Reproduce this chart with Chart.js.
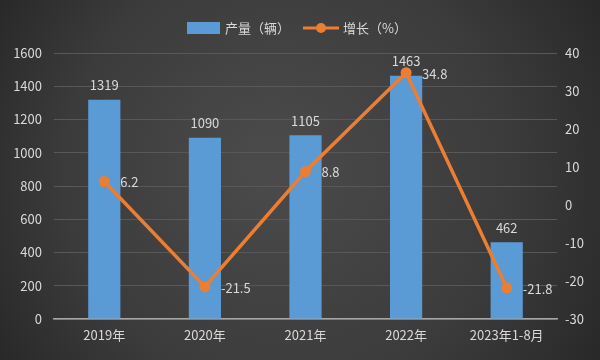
<!DOCTYPE html>
<html><head><meta charset="utf-8">
<script src="https://cdn.jsdelivr.net/npm/chart.js@4/dist/chart.umd.min.js"></script>
<style>html,body{margin:0;padding:0;background:#333;}#wrap{width:600px;height:360px;}</style>
</head><body><div id="wrap"><canvas id="c" width="600" height="360"></canvas></div>
<script>
const categories = ['2019年', '2020年', '2021年', '2022年', '2023年1-8月'];
const production = [1319, 1090, 1105, 1463, 462];
const growth = [6.2, -21.5, 8.8, 34.8, -21.8];
const leftTicks = [0, 200, 400, 600, 800, 1000, 1200, 1400, 1600];
const rightTicks = [-30, -20, -10, 0, 10, 20, 30, 40];
const seriesNames = ['产量（辆）', '增长（%）'];

const FONT = '"Noto Sans CJK SC", "Noto Sans", sans-serif';
const TXT = '#d9d9d9';
const BLUE = '#5b9bd5';
const ORANGE = '#ed7d31';

const bgPlugin = {
  id: 'bg',
  beforeDraw(chart) {
    const ctx = chart.ctx, w = chart.width, h = chart.height;
    ctx.save();
    const g = ctx.createRadialGradient(w*0.45, h*0.45, 20, w*0.5, h*0.5, 360);
    g.addColorStop(0, '#4a4a4a');
    g.addColorStop(0.6, '#3b3b3b');
    g.addColorStop(1, '#272727');
    ctx.fillStyle = g;
    ctx.fillRect(0, 0, w, h);
    ctx.restore();
  }
};

const labelPlugin = {
  id: 'labels',
  afterDatasetsDraw(chart) {
    const ctx = chart.ctx;
    ctx.save();
    ctx.font = '13px ' + FONT;
    ctx.fillStyle = TXT;
    const bars = chart.getDatasetMeta(0).data;
    ctx.textAlign = 'center';
    ctx.textBaseline = 'bottom';
    bars.forEach((b, i) => ctx.fillText(String(production[i]), b.x, b.y - 8));
    const pts = chart.getDatasetMeta(1).data;
    ctx.textAlign = 'left';
    ctx.textBaseline = 'middle';
    pts.forEach((p, i) => ctx.fillText(String(growth[i]), p.x + 16, p.y + 1));
    ctx.restore();
  },
  afterDraw(chart) {
    const ctx = chart.ctx;
    ctx.save();
    ctx.font = '13px ' + FONT;
    ctx.textBaseline = 'middle';
    ctx.textAlign = 'left';
    const y = 28;
    ctx.fillStyle = BLUE;
    ctx.fillRect(187, y - 6, 33, 12);
    ctx.fillStyle = TXT;
    ctx.fillText(seriesNames[0], 225, y);
    ctx.strokeStyle = ORANGE;
    ctx.lineWidth = 3;
    ctx.beginPath(); ctx.moveTo(303, y); ctx.lineTo(339, y); ctx.stroke();
    ctx.fillStyle = ORANGE;
    ctx.beginPath(); ctx.arc(321, y, 5, 0, Math.PI*2); ctx.fill();
    ctx.fillStyle = TXT;
    ctx.fillText(seriesNames[1], 343, y);
    ctx.restore();
  }
};

new Chart(document.getElementById('c'), {
  data: {
    labels: categories,
    datasets: [
      { type: 'bar', label: seriesNames[0], data: production, backgroundColor: BLUE, yAxisID: 'y', order: 2,
        categoryPercentage: 1, barPercentage: 0.32 },
      { type: 'line', label: seriesNames[1], data: growth, borderColor: ORANGE, backgroundColor: ORANGE,
        borderWidth: 3.5, pointRadius: 5.5, pointHoverRadius: 5.5, pointBackgroundColor: ORANGE, pointBorderWidth: 0,
        yAxisID: 'y1', order: 1, tension: 0 }
    ]
  },
  options: {
    responsive: false,
    animation: false,
    devicePixelRatio: 1,
    layout: { padding: { top: 53, bottom: 0, left: 0, right: 0 } },
    plugins: { legend: { display: false }, tooltip: { enabled: false } },
    scales: {
      x: {
        grid: { display: false, drawTicks: false },
        border: { color: '#a6a6a6', width: 1.5 },
        ticks: { color: TXT, font: { family: FONT, size: 13 }, padding: 8, maxRotation: 0 },
        afterFit(s) { s.height = 41; }
      },
      y: {
        position: 'left', min: 0, max: 1600,
        afterBuildTicks(s) { s.ticks = leftTicks.map(v => ({ value: v })); },
        grid: { color: '#585858', lineWidth: 1, drawTicks: false },
        border: { display: false },
        ticks: { color: TXT, font: { family: FONT, size: 13 }, padding: 12, callback: v => String(v) },
        afterFit(s) { s.width = 54; }
      },
      y1: {
        position: 'right', min: -30, max: 40,
        afterBuildTicks(s) { s.ticks = rightTicks.map(v => ({ value: v })); },
        grid: { display: false, drawTicks: false },
        border: { display: false },
        ticks: { color: TXT, font: { family: FONT, size: 13 }, padding: 8, callback: v => String(v) },
        afterFit(s) { s.width = 43; }
      }
    }
  },
  plugins: [bgPlugin, labelPlugin]
});
</script>
</body></html>
